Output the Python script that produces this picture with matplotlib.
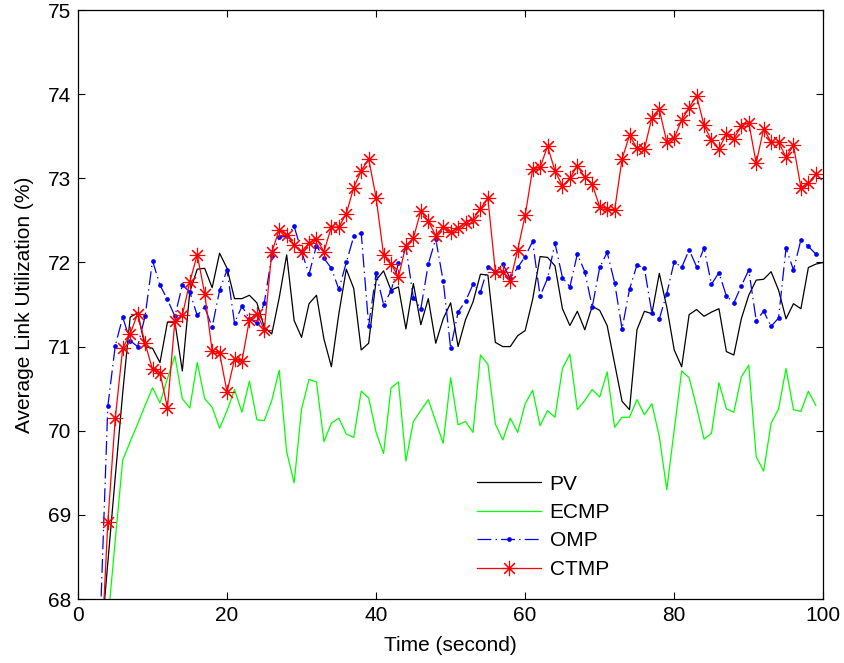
import matplotlib
matplotlib.use('Agg')
import matplotlib.pyplot as plt

plt.rcParams['font.family'] = ['Liberation Sans', 'DejaVu Sans']
plt.rcParams['font.size'] = 15
plt.rcParams['lines.scale_dashes'] = False

# time axis (seconds)
time = list(range(3, 100))
time_pv = list(range(3, 101))

pv = [67.4, 68.43, 69.45, 70.45, 71.35, 71.40, 71.00, 70.98, 70.81, 71.29,
      71.29, 70.71, 71.65, 71.92, 71.93, 71.70, 72.11, 71.93, 71.57, 71.57,
      71.61, 71.52, 71.23, 71.15, 71.58, 72.09, 71.31, 71.11, 71.51, 71.61,
      71.09, 70.76, 71.39, 71.92, 71.69, 70.96, 71.04, 71.79, 71.90, 71.67,
      71.71, 71.21, 71.75, 71.26, 71.57, 71.04, 71.33, 71.52, 71.00, 71.32,
      71.53, 71.86, 71.85, 71.05, 71.00, 71.00, 71.13, 71.19, 71.56, 72.07,
      72.06, 71.96, 71.45, 71.25, 71.42, 71.20, 71.48, 71.43, 71.25, 70.80,
      70.35, 70.25, 71.20, 71.42, 71.39, 71.87, 71.47, 70.96, 70.76, 71.38,
      71.44, 71.36, 71.41, 71.45, 70.94, 70.90, 71.33, 71.61, 71.79, 71.80,
      71.89, 71.67, 71.33, 71.51, 71.45, 71.94, 71.98, 72.00]

ecmp = [66.8, 67.72, 68.70, 69.65, 69.87, 70.08, 70.30, 70.51, 70.33, 70.62,
        70.89, 70.38, 70.27, 70.81, 70.38, 70.28, 70.03, 70.24, 70.49, 70.22,
        70.59, 70.13, 70.12, 70.36, 70.72, 69.75, 69.38, 70.26, 70.61, 70.58,
        69.87, 70.09, 70.15, 69.96, 69.92, 70.47, 70.39, 69.98, 69.73, 70.51,
        70.58, 69.64, 70.11, 70.24, 70.37, 70.11, 69.85, 70.63, 70.07, 70.11,
        69.98, 70.90, 70.79, 70.08, 69.89, 70.15, 69.98, 70.32, 70.48, 70.06,
        70.24, 70.16, 70.74, 70.91, 70.25, 70.36, 70.49, 70.40, 70.70, 70.04,
        70.16, 70.16, 70.37, 70.19, 70.32, 69.93, 69.30, 70.01, 70.71, 70.63,
        70.28, 69.90, 69.97, 70.57, 70.26, 70.22, 70.64, 70.78, 69.69, 69.52,
        70.09, 70.26, 70.74, 70.25, 70.23, 70.47, 70.30]

omp = [67.75, 70.29, 71.01, 71.35, 71.07, 71.00, 71.36, 72.02, 71.73, 71.56,
       71.36, 71.73, 71.65, 71.37, 71.47, 71.23, 71.67, 71.91, 71.28, 71.48,
       71.33, 71.28, 71.52, 72.08, 72.30, 72.31, 72.43, 72.13, 71.86, 72.20,
       72.05, 71.93, 71.68, 72.00, 72.31, 72.35, 71.25, 71.87, 71.50, 71.66,
       71.99, 72.18, 71.58, 71.45, 71.98, 72.28, 71.78, 70.98, 71.41, 71.54,
       71.74, 71.65, 71.94, 71.89, 71.98, 71.81, 71.94, 72.07, 72.25, 71.60,
       71.81, 72.23, 71.82, 71.71, 72.10, 71.89, 71.47, 71.94, 72.12, 71.76,
       71.21, 71.68, 71.97, 71.93, 71.40, 71.33, 71.63, 72.01, 71.94, 72.15,
       71.95, 72.17, 71.74, 71.88, 71.60, 71.52, 71.72, 71.91, 71.31, 71.42,
       71.24, 71.34, 72.17, 71.91, 72.27, 72.19, 72.10]

ctmp = [67.1, 68.91, 70.15, 70.98, 71.15, 71.39, 71.04, 70.73, 70.69, 70.27,
        71.31, 71.37, 71.77, 72.09, 71.63, 70.95, 70.92, 70.46, 70.85, 70.83,
        71.32, 71.39, 71.20, 72.12, 72.39, 72.33, 72.21, 72.13, 72.23, 72.28,
        72.13, 72.42, 72.42, 72.58, 72.89, 73.09, 73.23, 72.77, 72.09, 71.98,
        71.83, 72.20, 72.29, 72.61, 72.49, 72.32, 72.42, 72.36, 72.41, 72.47,
        72.51, 72.64, 72.76, 71.89, 71.89, 71.78, 72.15, 72.56, 73.11, 73.13,
        73.38, 73.09, 72.91, 73.00, 73.15, 73.01, 72.93, 72.66, 72.64, 72.62,
        73.23, 73.51, 73.36, 73.35, 73.72, 73.82, 73.43, 73.48, 73.69, 73.84,
        73.98, 73.63, 73.45, 73.35, 73.53, 73.47, 73.62, 73.66, 73.18, 73.59,
        73.43, 73.43, 73.25, 73.39, 72.89, 72.94, 73.05]

fig = plt.figure(figsize=(8.45, 6.63), dpi=100)
ax = fig.add_axes([0.0923, 0.0965, 0.882, 0.8884])

ax.plot(time_pv, pv, color='black', lw=0.9, label='PV')
ax.plot(time, ecmp, color=(0, 1, 0), lw=0.9, label='ECMP')
ax.plot(time, omp, color='blue', lw=0.9, linestyle=(0, (10, 3, 1, 3)),
        marker='o', markersize=3.4, markeredgewidth=0, label='OMP')
ax.plot(time, ctmp, color='red', lw=0.9, marker=(8, 2, 0), markersize=11,
        markeredgewidth=0.8, label='CTMP')

ax.set_xlim(0, 100)
ax.set_ylim(68, 75)
ax.set_xticks(range(0, 101, 20))
ax.set_yticks(range(68, 76))
ax.tick_params(direction='in', length=5, width=0.8, top=True, right=True, pad=5)
for s in ax.spines.values():
    s.set_linewidth(0.9)

ax.set_xlabel('Time (second)', labelpad=8)
ax.set_ylabel('Average Link Utilization (%)', labelpad=10)

ax.legend(loc='upper left', bbox_to_anchor=(0.535, 0.211), frameon=False,
          borderpad=0, handlelength=3.1, handletextpad=0.4, labelspacing=0.45,
          borderaxespad=0)

fig.savefig('out.png', dpi=100)
